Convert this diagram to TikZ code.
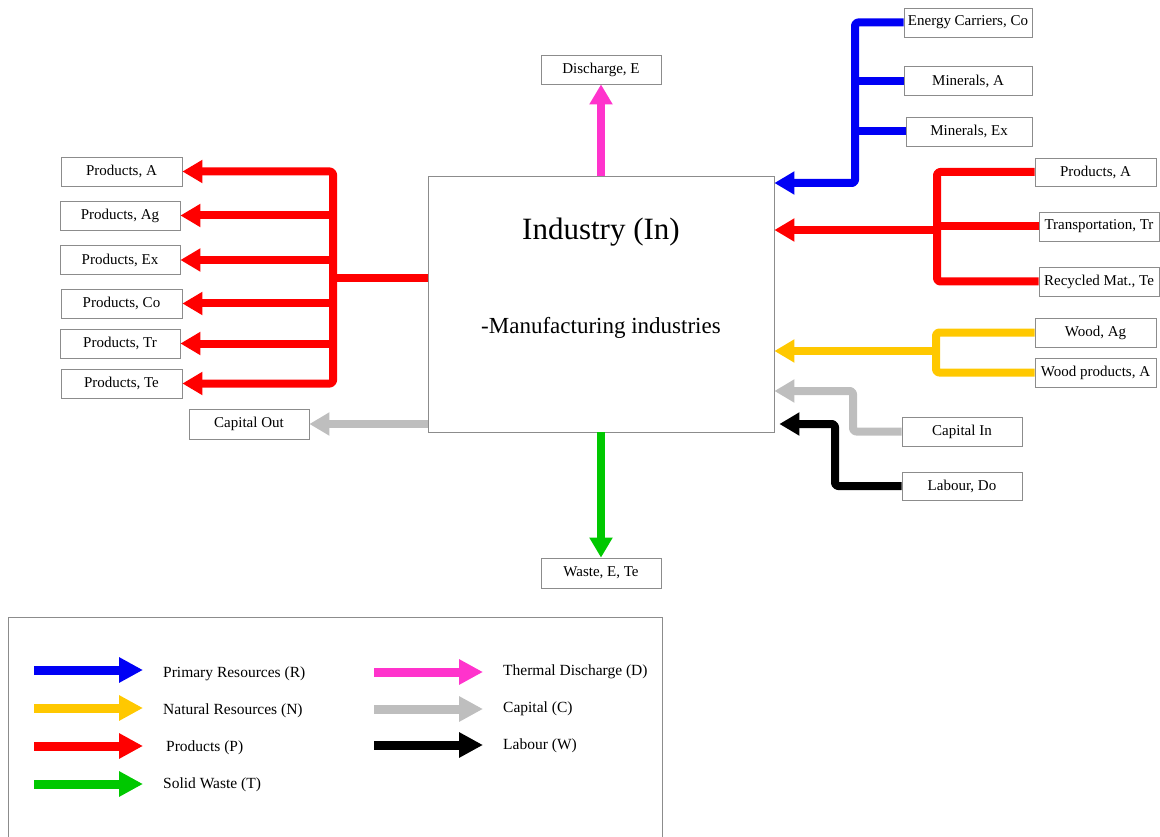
\documentclass[tikz,border=0pt]{standalone}
\usepackage{fontspec}
\setmainfont{Liberation Serif}
\usetikzlibrary{arrows.meta}
\definecolor{flowblue}{RGB}{0,0,245}
\definecolor{flowred}{RGB}{255,0,0}
\definecolor{flowyellow}{RGB}{255,200,0}
\definecolor{flowpink}{RGB}{255,51,204}
\definecolor{flowgrey}{RGB}{190,190,190}
\definecolor{flowgreen}{RGB}{0,200,0}
\definecolor{boxline}{RGB}{140,140,140}

\begin{document}
\begin{tikzpicture}[x=1pt,y=-1pt,
  lbl/.style={draw=boxline, line width=0.8pt, inner sep=0pt, minimum height=29pt,
    minimum width=120pt, fill=white, font=\fontsize{15}{17}\selectfont},
  flow/.style={line width=8pt, line join=round, rounded corners=3pt},
  tip/.style={-{Triangle[width=22pt,length=20pt]}},
  bothtips/.style={{Triangle[width=22pt,length=20pt]}-{Triangle[width=22pt,length=20pt]}},
  keyarrow/.style={line width=9pt, -{Triangle[width=24pt,length=24pt]}},
  keytext/.style={anchor=west, inner sep=0pt, font=\fontsize{15.5}{18}\selectfont}]
\useasboundingbox (0,0) rectangle (1160,837);

% central process box
\node[draw=boxline, line width=0.8pt, minimum width=346pt, minimum height=256pt, inner sep=0pt]
  (In) at (601,304) {};
\node[font=\fontsize{31}{35}\selectfont] (title) at (601,232) {Industry (In)};
\node[font=\fontsize{23}{27}\selectfont] (sub) at (601,328) {-Manufacturing industries};

% outputs
\node[lbl] (dis) at (601,69.5) {Discharge, E};
\node[lbl, minimum height=30pt] (waste) at (601,573) {Waste, E, Te};
\node[lbl, minimum width=121pt] (pA) at (121.5,171.5) {Products, A};
\node[lbl] (pAg) at (120,215.5) {Products, Ag};
\node[lbl] (pEx) at (120,260) {Products, Ex};
\node[lbl, minimum width=121pt] (pCo) at (121.5,303.5) {Products, Co};
\node[lbl] (pTr) at (120,343.5) {Products, Tr};
\node[lbl, minimum width=121pt] (pTe) at (121.5,383.5) {Products, Te};
\node[lbl, minimum height=30pt] (capOut) at (249,424) {Capital Out};

% inputs
\node[lbl, minimum width=128pt] (ec) at (968,22.5) {Energy Carriers, Co};
\node[lbl, minimum width=128pt] (minA) at (968,81) {Minerals, A};
\node[lbl, minimum width=126pt] (minEx) at (969,131.5) {Minerals, Ex};
\node[lbl, minimum width=121pt, minimum height=28pt] (rpA) at (1095.5,172) {Products, A};
\node[lbl] (tr) at (1099,226.5) {Transportation, Tr};
\node[lbl] (rec) at (1099,281.5) {Recycled Mat., Te};
\node[lbl, minimum width=121pt] (wAg) at (1095.5,332.5) {Wood, Ag};
\node[lbl, minimum width=121pt] (wp) at (1095.5,372.5) {Wood products, A};
\node[lbl] (capIn) at (962,431.5) {Capital In};
\node[lbl, minimum height=28pt] (lab) at (962,486) {Labour, Do};

% junction points of the branching flows
\coordinate (rjL) at (333,278);
\coordinate (bj) at (855,183);
\coordinate (rjR) at (937,230);
\coordinate (yj) at (936,351);
\coordinate (gj) at (853,391);
\coordinate (kj) at (835,424);

% thermal discharge and solid waste
\draw[flow, flowpink, tip] (In.north) -- (dis.south);
\draw[flow, flowgreen, tip] (In.south) -- (waste.north);

% products leaving the industry
\draw[flow, flowred] (rjL -| In.west) -- (rjL);
\draw[flow, flowred, bothtips] (pA.east) -- (rjL |- pA.east) -- (rjL |- pTe.east) -- (pTe.east);
\draw[flow, flowred, tip] (rjL |- pAg.east) -- (pAg.east);
\draw[flow, flowred, tip] (rjL |- pEx.east) -- (pEx.east);
\draw[flow, flowred, tip] (rjL |- pCo.east) -- (pCo.east);
\draw[flow, flowred, tip] (rjL |- pTr.east) -- (pTr.east);

% capital out
\draw[flow, flowgrey, tip] (In.west |- capOut.east) -- (capOut.east);

% primary resources in
\draw[flow, flowblue, tip] (ec.west) -- (bj |- ec.west) -- (bj) -- (bj -| In.east);
\draw[flow, flowblue] (minA.west) -- (bj |- minA.west);
\draw[flow, flowblue] (minEx.west) -- (bj |- minEx.west);

% products in
\draw[flow, flowred] (rpA.west) -- (rjR |- rpA.west) -- (rjR |- rec.west) -- (rec.west);
\draw[flow, flowred] (tr.west) -- (rjR |- tr.west);
\draw[flow, flowred, tip] (rjR) -- (rjR -| In.east);

% natural resources in
\draw[flow, flowyellow] (wAg.west) -- (yj |- wAg.west) -- (yj |- wp.west) -- (wp.west);
\draw[flow, flowyellow, tip] (yj) -- (yj -| In.east);

% capital and labour in
\draw[flow, flowgrey, tip] (capIn.west) -- (gj |- capIn.west) -- (gj) -- (gj -| In.east);
\draw[flow, black, tip] (lab.west) -- (kj |- lab.west) -- (kj) -- ([xshift=5pt]kj -| In.east);

% legend
\draw[boxline, line width=0.8pt] (8,840) -- (8,617) -- (662,617) -- (662,840);
\coordinate (kR0) at (34,670);  \coordinate (kR1) at (143,670);
\coordinate (kN0) at (34,708);  \coordinate (kN1) at (143,708);
\coordinate (kP0) at (34,746);  \coordinate (kP1) at (143,746);
\coordinate (kT0) at (34,784);  \coordinate (kT1) at (143,784);
\coordinate (kD0) at (374,672); \coordinate (kD1) at (483,672);
\coordinate (kC0) at (374,709); \coordinate (kC1) at (483,709);
\coordinate (kW0) at (374,745); \coordinate (kW1) at (483,745);
\draw[keyarrow, flowblue] (kR0) -- (kR1);
\draw[keyarrow, flowyellow] (kN0) -- (kN1);
\draw[keyarrow, flowred] (kP0) -- (kP1);
\draw[keyarrow, flowgreen] (kT0) -- (kT1);
\draw[keyarrow, flowpink] (kD0) -- (kD1);
\draw[keyarrow, flowgrey] (kC0) -- (kC1);
\draw[keyarrow, black] (kW0) -- (kW1);
\node[keytext] (tR) at (163,674) {Primary Resources (R)};
\node[keytext] (tN) at (163,711) {Natural Resources (N)};
\node[keytext] (tP) at (166,748) {Products (P)};
\node[keytext] (tT) at (163,785) {Solid Waste (T)};
\node[keytext] (tD) at (503,672) {Thermal Discharge (D)};
\node[keytext] (tC) at (503,709) {Capital (C)};
\node[keytext] (tW) at (503,746) {Labour (W)};
\end{tikzpicture}
\end{document}
